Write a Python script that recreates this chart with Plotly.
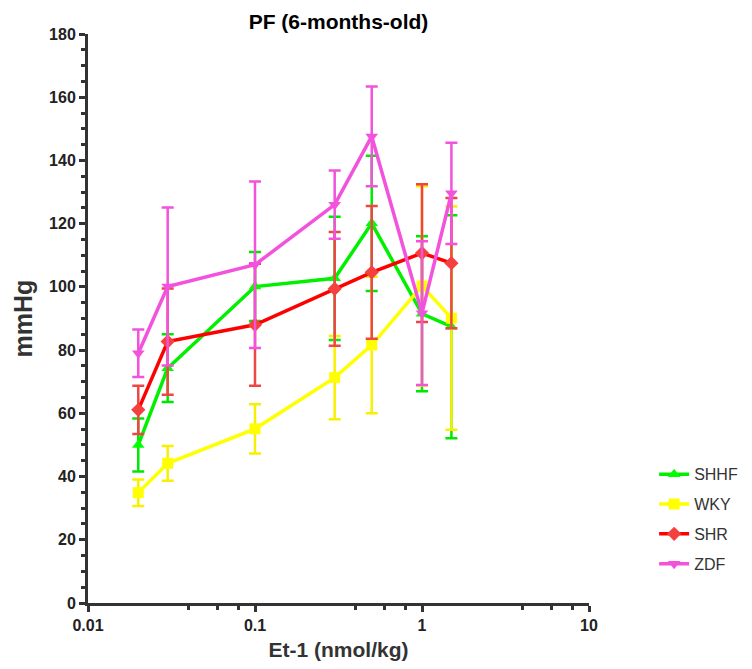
import plotly.graph_objects as go

dose = [0.02, 0.03, 0.1, 0.3, 0.5, 1, 1.5]

shhf = [50.0, 74.3, 100.1, 102.7, 120.1, 91.5, 87.4]
shhf_err = [8.4, 10.7, 10.9, 19.5, 21.4, 24.5, 35.3]

wky = [34.9, 44.2, 55.1, 71.3, 81.6, 100.3, 90.1]
wky_err = [4.2, 5.5, 7.8, 13.2, 21.6, 31.5, 35.3]

shr = [61.1, 82.7, 88.0, 99.4, 104.6, 110.7, 107.5]
shr_err = [7.6, 16.8, 19.3, 18.0, 21.0, 21.8, 20.6]

zdf = [79.0, 100.1, 107.0, 126.0, 147.6, 91.7, 129.6]
zdf_err = [7.5, 25.0, 26.3, 10.8, 15.8, 22.7, 16.0]

series = [
    ("SHHF", shhf, shhf_err, "#00f000", "#00ff00", "#00e800", "triangle-up"),
    ("WKY", wky, wky_err, "#ffff00", "#ffff00", "#f8f000", "square"),
    ("SHR", shr, shr_err, "#ff0000", "#f54040", "#f04545", "diamond"),
    ("ZDF", zdf, zdf_err, "#f252dc", "#f252dc", "#f252dc", "triangle-down"),
]

fig = go.Figure()
for name, y, e, lc, mc, ec, sym in series:
    fig.add_trace(go.Scatter(
        x=dose, y=y, name=name, mode="lines+markers",
        legendgroup=name,
        line=dict(color=lc, width=3.5),
        marker=dict(symbol=sym, size=11, color=mc),
        error_y=dict(type="data", array=e, visible=True, color=ec,
                     thickness=2.5, width=6),
    ))

W, H = 744, 661
axis_font = dict(family="Liberation Sans", size=16, color="#222222")
fig.update_layout(
    width=W, height=H,
    plot_bgcolor="white", paper_bgcolor="white",
    margin=dict(l=80, r=163, t=26, b=66, autoexpand=False),
    title=dict(text="<b>PF (6-months-old)</b>", x=(80 + 581) / 2 / W,
               xanchor="center", y=1 - 14 / H, yanchor="middle",
               font=dict(family="Liberation Sans", size=21, color="black")),
    legend=dict(x=1.13, y=0.256, xanchor="left", yanchor="top",
                font=dict(family="Liberation Sans", size=16, color="#333333"),
                tracegroupgap=6, bgcolor="rgba(0,0,0,0)"),
    showlegend=True,
)
fig.update_xaxes(
    type="log", range=[-2, 1], automargin=False,
    tickvals=[0.01, 0.1, 1, 10], ticktext=["<b>0.01</b>", "<b>0.1</b>", "<b>1</b>", "<b>10</b>"],
    ticks="outside", ticklen=6, tickwidth=2.5, tickcolor="#333333",
    minor=dict(tickvals=[0.04, 0.06, 0.08, 0.4, 0.6, 0.8, 4, 6, 8],
               ticks="outside", ticklen=4, tickwidth=2.5, tickcolor="#333333"),
    showline=True, linecolor="#333333", linewidth=3,
    showgrid=False, zeroline=False,
    tickfont=axis_font,
    title=dict(text="<b>Et-1 (nmol/kg)</b>",
               font=dict(family="Liberation Sans", size=21, color="#333333"),
               standoff=10),
)
fig.update_yaxes(
    range=[0, 180], automargin=False,
    tickvals=list(range(0, 181, 20)),
    ticktext=["<b>%d</b>" % v for v in range(0, 181, 20)],
    ticks="outside", ticklen=6, tickwidth=2.5, tickcolor="#333333",
    minor=dict(dtick=5, ticks="outside", ticklen=4, tickwidth=2.5, tickcolor="#333333"),
    showline=True, linecolor="#333333", linewidth=3,
    showgrid=False, zeroline=False,
    tickfont=axis_font,
    title=dict(text="<b>mmHg</b>",
               font=dict(family="Liberation Sans", size=25, color="#333333"),
               standoff=10),
)

fig.write_html("out.html")
